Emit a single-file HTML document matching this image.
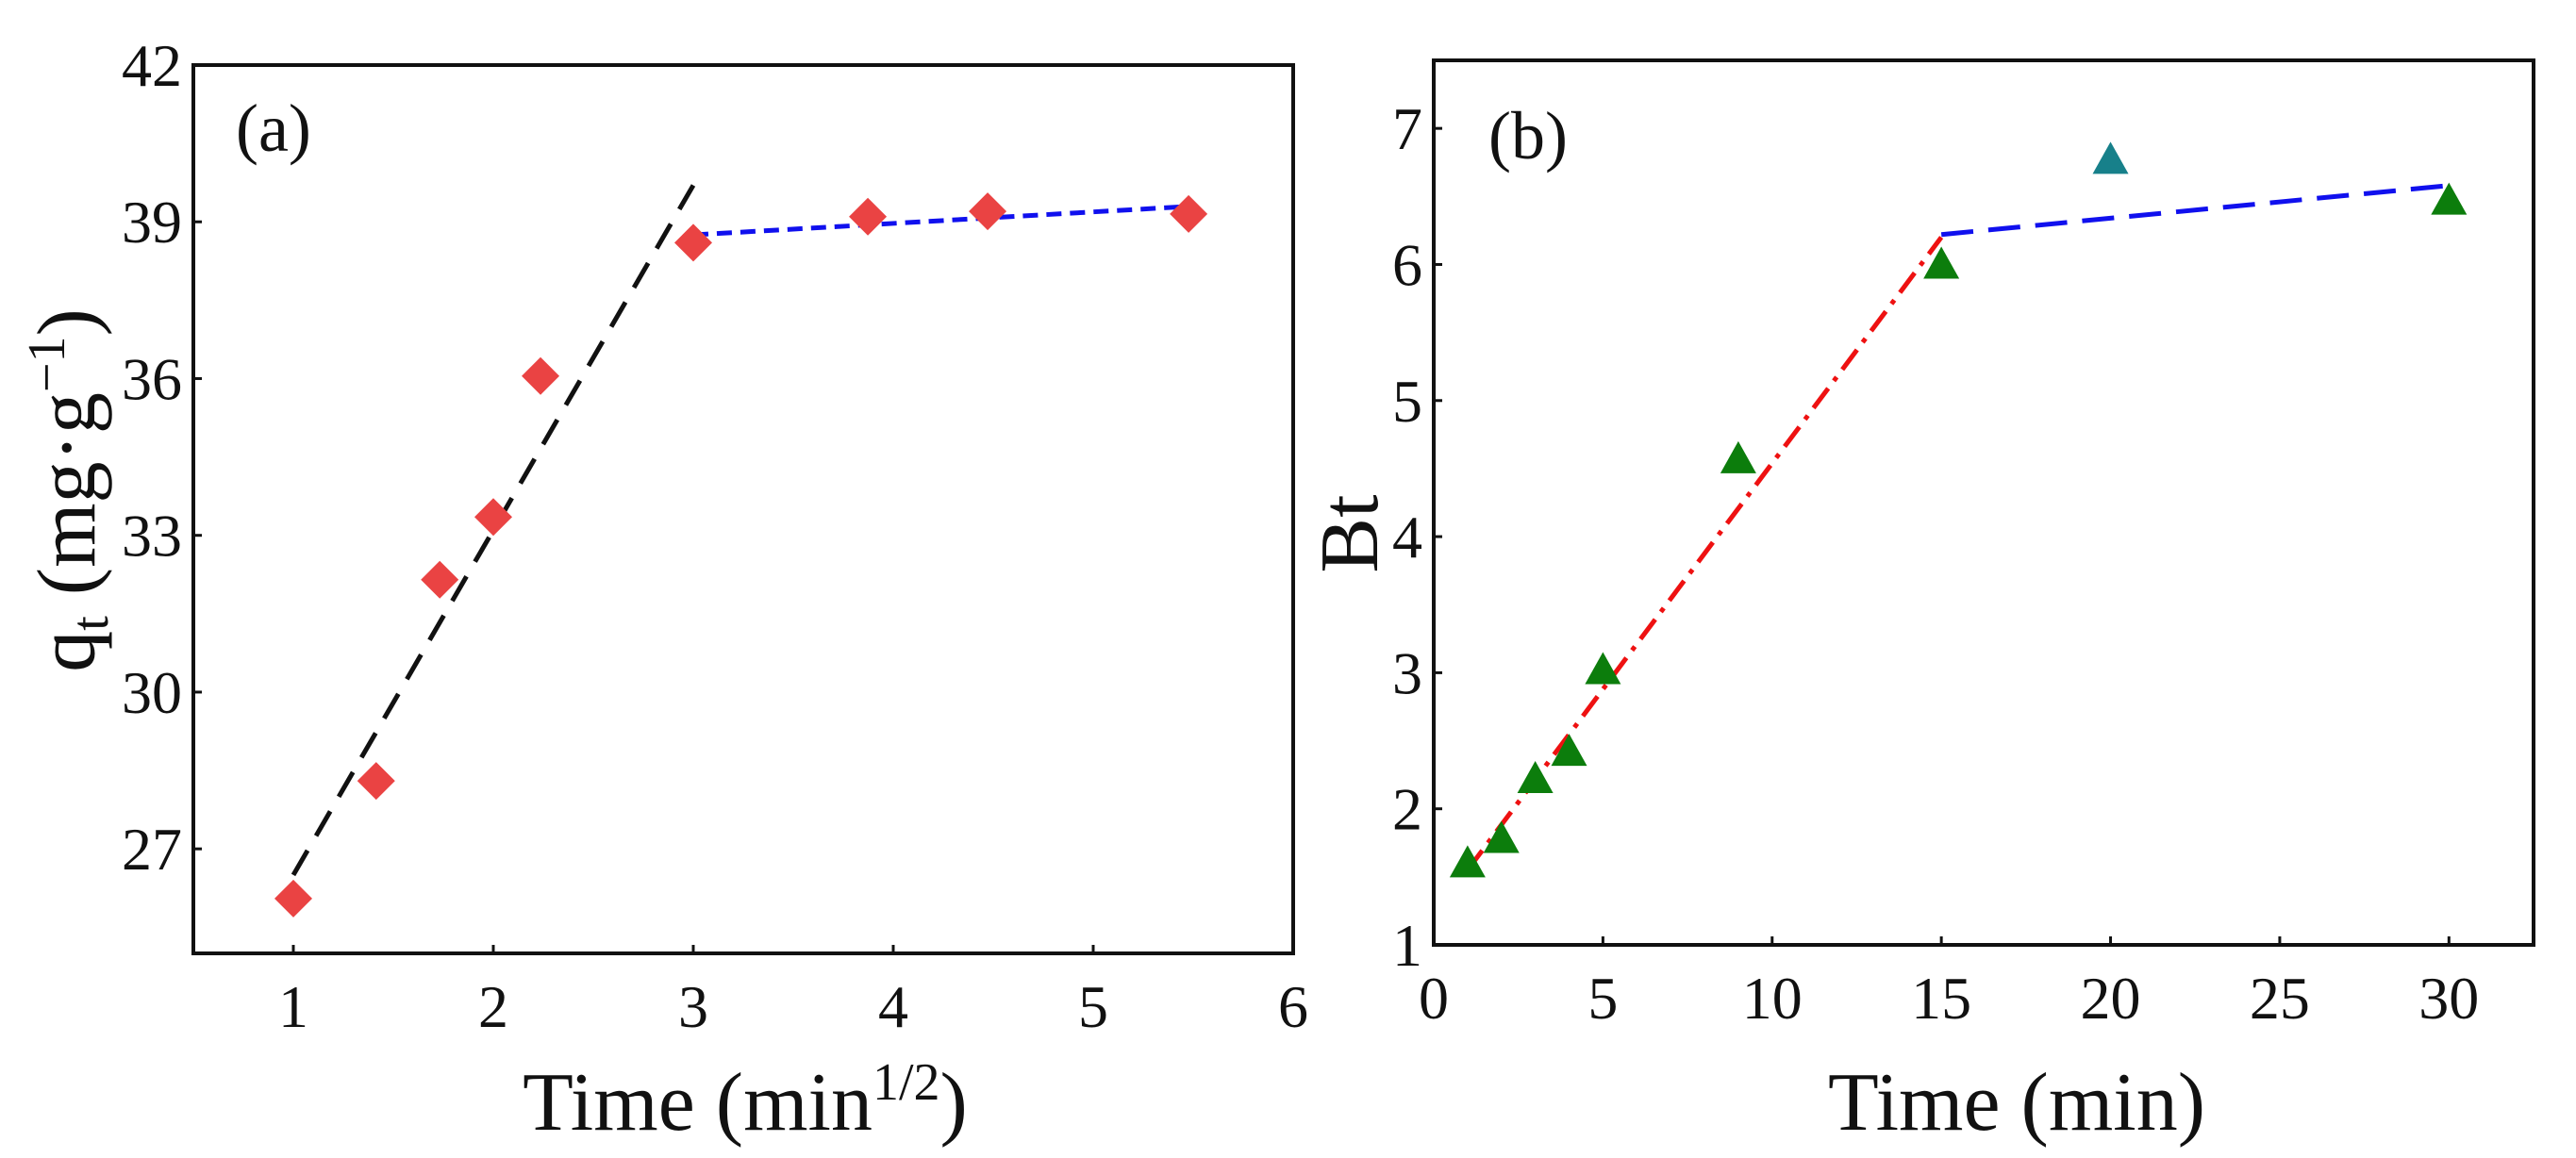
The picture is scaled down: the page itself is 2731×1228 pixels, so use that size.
<!DOCTYPE html>
<html><head><meta charset="utf-8"><style>
html,body{margin:0;padding:0;background:#fff;}
svg{display:block;font-family:"Liberation Serif",serif;}
</style></head><body>
<svg id="fig" width="2731" height="1228" viewBox="0 0 2731 1228" xmlns="http://www.w3.org/2000/svg"></svg>
<script>
// Panel (a) data
const aX = [1, 1.414, 1.732, 2, 2.236, 3, 3.873, 4.472, 5.477];
const aY = [26.05, 28.3, 32.15, 33.35, 36.05, 38.6, 39.1, 39.2, 39.15];
const aFit1X = [1, 3];
const aFit1Y = [26.5, 39.7];
const aFit2X = [3, 5.5];
const aFit2Y = [38.75, 39.3];
const aXTicks = [1, 2, 3, 4, 5, 6];
const aYTicks = [27, 30, 33, 36, 39, 42];
// Panel (b) data
const bX = [1, 2, 3, 4, 5, 9, 15, 20, 30];
const bY = [1.6, 1.78, 2.22, 2.42, 3.02, 4.57, 6.0, 6.77, 6.47];
const bFit1X = [1, 15];
const bFit1Y = [1.55, 6.2];
const bFit2X = [15, 30];
const bFit2Y = [6.22, 6.58];
const bXTicks = [0, 5, 10, 15, 20, 25, 30];
const bYTicks = [1, 2, 3, 4, 5, 6, 7];

const NS = "http://www.w3.org/2000/svg";
const svg = document.getElementById('fig');
function mk(tag, attrs, parent) {
  const e = document.createElementNS(NS, tag);
  for (const k in attrs) e.setAttribute(k, attrs[k]);
  (parent || svg).appendChild(e);
  return e;
}
function panel(cfg) {
  const g = mk('g', {});
  
  
  const sx = v => cfg.L + (v - cfg.x0) / (cfg.x1 - cfg.x0) * (cfg.R - cfg.L);
  const sy = v => cfg.B - (v - cfg.y0) / (cfg.y1 - cfg.y0) * (cfg.B - cfg.T);
  cfg.xt.forEach(t => {
    const x = sx(t);
    const tk = mk('line', {x1: x, x2: x, y1: cfg.B, y2: cfg.B - 9, stroke: '#111', 'stroke-width': 3}, g);
    
    
    const lb = mk('text', {x: x, y: cfg.B + 78, 'text-anchor': 'middle', 'font-size': 64, fill: '#111'}, g);
    lb.textContent = t;
    
    
  });
  cfg.yt.forEach(t => {
    const y = sy(t);
    const tk = mk('line', {x1: cfg.L, x2: cfg.L + 9, y1: y, y2: y, stroke: '#111', 'stroke-width': 3}, g);
    
    
    const lb = mk('text', {x: cfg.L - 12, y: y + 22, 'text-anchor': 'end', 'font-size': 64, fill: '#111'}, g);
    lb.textContent = t;
    
    
  });
  cfg.fits.forEach(f => {
    const ln = mk('line', {x1: sx(f.x[0]), y1: sy(f.y[0]), x2: sx(f.x[1]), y2: sy(f.y[1]), stroke: f.c, 'stroke-width': 5, 'stroke-dasharray': f.d}, g);
    
    
  });
  cfg.xs.forEach((v, i) => {
    const x = sx(v), y = sy(cfg.ys[i]);
    let pts;
    if (cfg.marker === 'diamond') {
      const r = 20;
      pts = `${x},${y - r} ${x + r},${y} ${x},${y + r} ${x - r},${y}`;
    } else {
      const r = 19;
      pts = `${x},${y - r} ${x + r},${y + 15} ${x - r},${y + 15}`;
    }
    const col = cfg.colors ? cfg.colors[i] : cfg.color;
    const m = mk('polygon', {points: pts, fill: col}, g);
    
    
  });
  const fr = mk('rect', {x: cfg.L, y: cfg.T, width: cfg.R - cfg.L, height: cfg.B - cfg.T, fill: 'none', stroke: '#111', 'stroke-width': 4}, g);
  
  
  return g;
}
panel({name: 'panel-a', L: 205, R: 1371, T: 69, B: 1011, x0: 0.5, x1: 6, y0: 25, y1: 42,
  xt: aXTicks, yt: aYTicks, xs: aX, ys: aY, marker: 'diamond', color: '#ea4343',
  fits: [{x: aFit1X, y: aFit1Y, c: '#111', d: '30 18', name: 'fit-line-stage1'},
         {x: aFit2X, y: aFit2Y, c: '#1010ee', d: '16 9', name: 'fit-line-stage2'}]});
panel({name: 'panel-b', L: 1520, R: 2686, T: 64, B: 1002, x0: 0, x1: 32.5, y0: 1, y1: 7.5,
  xt: bXTicks, yt: bYTicks, xs: bX, ys: bY, marker: 'tri',
  colors: bX.map((v, i) => i === 7 ? '#17808a' : '#0c7d0c'),
  fits: [{x: bFit1X, y: bFit1Y, c: '#ee1111', d: '26 10 5 10', name: 'fit-line-stage1'},
         {x: bFit2X, y: bFit2Y, c: '#1010ee', d: '34 16', name: 'fit-line-stage2'}]});
</script>
<script>
(function(){
  const NS = "http://www.w3.org/2000/svg";
  const s = document.getElementById('fig');
  function t(html, attrs, name) {
    const e = document.createElementNS(NS, 'text');
    for (const k in attrs) e.setAttribute(k, attrs[k]);
    e.innerHTML = html;
    
    
    s.appendChild(e);
  }
  t('(a)', {x: 250, y: 160, 'font-size': 72, fill: '#111'}, 'panel-label-a');
  t('(b)', {x: 1578, y: 168, 'font-size': 72, fill: '#111'}, 'panel-label-b');
  t('Time (min<tspan font-size="56" dy="-32">1/2</tspan><tspan dy="32">)</tspan>', {x: 790, y: 1198, 'text-anchor': 'middle', 'font-size': 88, fill: '#111'}, 'x-axis-title-a');
  t('Time (min)', {x: 2138, y: 1198, 'text-anchor': 'middle', 'font-size': 88, fill: '#111'}, 'x-axis-title-b');
  t('q<tspan font-size="56" dy="14">t</tspan><tspan dy="-14"> (mg·g</tspan><tspan font-size="56" dy="-32">−1</tspan><tspan dy="32">)</tspan>', {x: 0, y: 0, 'text-anchor': 'middle', 'font-size': 88, fill: '#111', transform: 'translate(100,520) rotate(-90)'}, 'y-axis-title-a');
  t('Bt', {x: 0, y: 0, 'text-anchor': 'middle', 'font-size': 88, fill: '#111', transform: 'translate(1460,566) rotate(-90)'}, 'y-axis-title-b');
})();
</script>
</body></html>
